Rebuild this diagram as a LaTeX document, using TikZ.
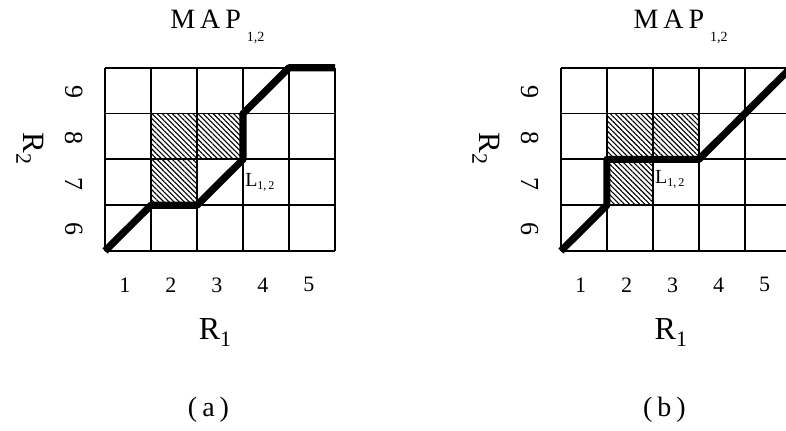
\documentclass[tikz,border=0pt]{standalone}
\usepackage{fontspec}
\setmainfont{Liberation Serif}
\usetikzlibrary{patterns.meta}

\begin{document}
\begin{tikzpicture}[x=23pt,y=22.9pt,inner sep=0pt,
            cell/.style={line width=0.9pt},
            route/.style={line width=3.6pt,line join=round},
            hatch/.style={pattern={Lines[angle=-45,distance=1.8pt,line width=0.55pt]}},
            num/.style={font=\fontsize{11}{12}\selectfont}]
  \useasboundingbox (-2.283,-3.909) rectangle (14.804,5.48);
  \clip (-2.283,-3.909) rectangle (14.804,5.48);
  \foreach \ox/\pn/\mx/\lx/\ly in {0/a/1.41/3.04/1.40,9.91/b/1.57/2.04/1.48}{
    \begin{scope}[shift={(\ox,0)}]
      \fill[hatch] (1,1) rectangle (2,3) (2,2) rectangle (3,3);
      \foreach \i in {0,...,5}{\draw[cell] (\i,0) -- (\i,4);}
      \foreach \j in {0,...,4}{\draw[cell] (0,\j) -- (5,\j);}
      \node[anchor=base west,font=\fontsize{14}{15}\selectfont] (map-\pn) at (\mx,4.85)
        {M\hspace{2.5pt}A\hspace{2.5pt}P\hspace{3pt}\raisebox{-6.5pt}{\fontsize{7}{8}\selectfont 1,2}};
      \foreach \k in {1,...,5}{\node[num] (col\k-\pn) at (\k-0.57,-0.74) {\k};}
      \foreach \r/\k in {0/6,1/7,2/8,3/9}{\node[num,font=\fontsize{13}{14}\selectfont,rotate=-90] (row\k-\pn) at (-0.68,\r+0.47) {\k};}
      \node[rotate=-90,font=\fontsize{15.5}{17}\selectfont] (ax2-\pn) at (-1.63,2.24)
        {R\raisebox{-3.5pt}{\fontsize{11}{12}\selectfont 2}};
      \node[anchor=base,font=\fontsize{16}{17}\selectfont] (ax1-\pn) at (2.39,-1.94)
        {R\raisebox{-3.5pt}{\fontsize{11}{12}\selectfont 1}};
      \node[anchor=base west,font=\fontsize{10}{11}\selectfont] (lab-\pn) at (\lx,\ly)
        {L\raisebox{-1.5pt}{\fontsize{6}{7}\selectfont 1,\,2}};
      \node[font=\fontsize{14}{15}\selectfont] (cap-\pn) at (2.25,-3.47)
        {(\hspace{2.5pt}\pn\hspace{2.5pt})};
    \end{scope}}
  % the two paths L_{1,2}
  \draw[route] (0,0) -- (1,1) -- (2,1) -- (3,2) -- (3,3) -- (4,4) -- (5,4);
  \begin{scope}[shift={(9.91,0)}]
    \draw[route] (0,0) -- (1,1) -- (1,2) -- (3,2) -- (5,4);
  \end{scope}
\end{tikzpicture}
\end{document}
